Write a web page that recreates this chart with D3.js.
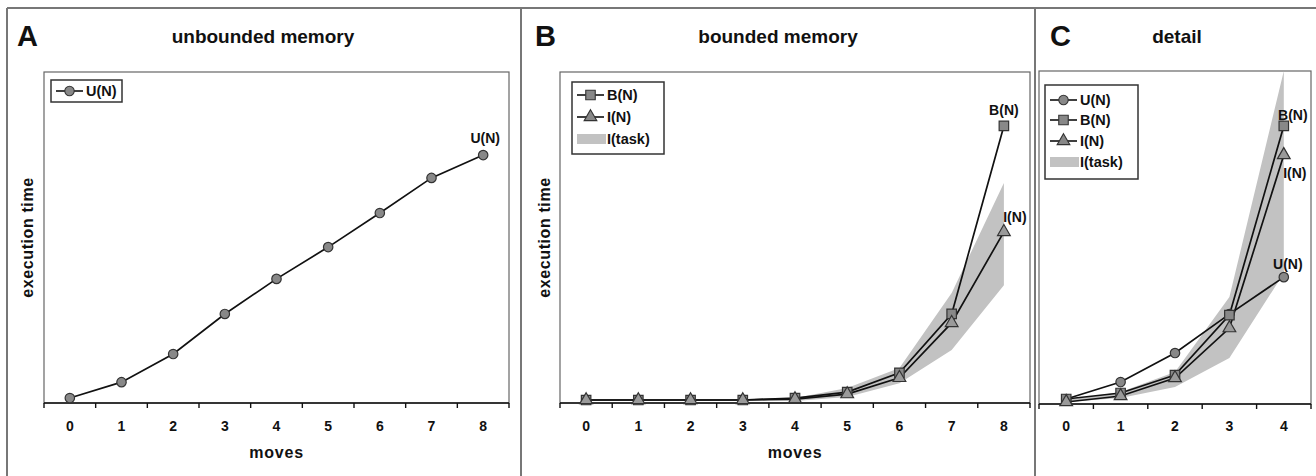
<!DOCTYPE html>
<html>
<head>
<meta charset="utf-8">
<script src="https://cdn.jsdelivr.net/npm/d3@7"></script>
<style>
  html, body { margin: 0; padding: 0; background: #fff; }
  svg text { font-family: Arial, "Liberation Sans", sans-serif; font-weight: bold; fill: #111; }
</style>
</head>
<body>
<svg id="chart" width="1316" height="476"></svg>
<script>
const movesA = [0, 1, 2, 3, 4, 5, 6, 7, 8];
const unboundedA = [1.5, 6.3, 14.8, 26.9, 37.5, 47.1, 57.4, 68.0, 74.9];

const movesB = [0, 1, 2, 3, 4, 5, 6, 7, 8];
const boundedB = [0.9, 0.9, 0.9, 0.9, 1.5, 3.3, 9.1, 26.9, 83.7];
const iterB = [0.9, 0.9, 0.9, 0.9, 1.2, 2.7, 7.6, 24.2, 51.7];
const taskHighB = [0.9, 0.9, 0.9, 1.0, 1.5, 4.5, 10.6, 33.2, 66.5];
const taskLowB = [0.8, 0.8, 0.8, 0.8, 0.6, 1.8, 6.0, 16.0, 35.6];

const movesC = [0, 1, 2, 3, 4];
const unboundedC = [1.5, 6.6, 15.3, 27.0, 38.1];
const boundedC = [1.5, 3.3, 8.7, 26.7, 83.5];
const iterC = [0.6, 2.4, 7.8, 22.8, 74.8];
const taskHighC = [1.2, 3.6, 9.6, 32.1, 100];
const taskLowC = [0.6, 1.8, 5.1, 13.8, 39.3];

const svg = d3.select("#chart");

// panel frames
const frame = svg.append("g").attr("stroke", "#777").attr("stroke-width", 2);
frame.append("line").attr("x1", 7).attr("x2", 1316).attr("y1", 8).attr("y2", 8);
[7, 521, 1035].forEach(x => {
  frame.append("line").attr("x1", x).attr("x2", x).attr("y1", 8).attr("y2", 476);
});

const symbols = {
  U: d3.symbol().type(d3.symbolCircle).size(70)(),
  B: d3.symbol().type(d3.symbolSquare).size(90)(),
  I: d3.symbol().type(d3.symbolTriangle).size(70)()
};

function drawPanel(p) {
  const x = d3.scaleBand().domain(p.moves).range([p.left, p.right]);
  const y = d3.scaleLinear().domain([0, 100]).range([p.bottom, p.top]);
  const cx = d => x(d) + x.bandwidth() / 2;
  const g = svg.append("g");

  const clipId = "clip" + p.letter;
  g.append("clipPath").attr("id", clipId)
    .append("rect").attr("x", p.left).attr("y", p.top)
    .attr("width", p.right - p.left).attr("height", p.bottom - p.top);

  // letter + title
  g.append("text").attr("x", p.letterX).attr("y", 46).attr("font-size", 29).text(p.letter);
  g.append("text").attr("x", p.titleX).attr("y", 43).attr("font-size", 19)
    .attr("text-anchor", "middle").text(p.title);

  // plot area
  g.append("rect").attr("x", p.left).attr("y", p.top)
    .attr("width", p.right - p.left).attr("height", p.bottom - p.top)
    .attr("fill", "#fff").attr("stroke", "#666").attr("stroke-width", 1.2);

  // band I(task)
  if (p.low) {
    const area = d3.area().x((d, i) => cx(p.moves[i]))
      .y0((d, i) => y(p.low[i])).y1(d => y(d));
    g.append("path").datum(p.high).attr("d", area)
      .attr("fill", "#c2c2c2").attr("clip-path", `url(#${clipId})`);
  }

  // x axis
  const ax = g.append("g");
  ax.append("line").attr("x1", p.left).attr("x2", p.right)
    .attr("y1", p.bottom).attr("y2", p.bottom).attr("stroke", "#111").attr("stroke-width", 1.6);
  const edges = p.moves.map(d => x(d)).concat([p.right]);
  ax.selectAll(".tk").data(edges).join("line")
    .attr("x1", d => d).attr("x2", d => d).attr("y1", p.bottom).attr("y2", p.bottom + 5)
    .attr("stroke", "#111").attr("stroke-width", 1.4);
  ax.selectAll(".lb").data(p.moves).join("text")
    .attr("x", cx).attr("y", 431).attr("font-size", 14).attr("text-anchor", "middle")
    .text(d => d);

  if (p.xTitle) {
    g.append("text").attr("x", (p.left + p.right) / 2).attr("y", 458)
      .attr("font-size", 16).attr("letter-spacing", 0.8).attr("text-anchor", "middle").text("moves");
  }
  if (p.yTitleX) {
    g.append("text")
      .attr("transform", `translate(${p.yTitleX},${(p.top + p.bottom) / 2}) rotate(-90)`)
      .attr("font-size", 16).attr("letter-spacing", 0.6).attr("text-anchor", "middle")
      .text("execution time");
  }

  // series
  const line = d3.line().x((d, i) => cx(p.moves[i])).y(d => y(d));
  p.series.forEach(s => {
    g.append("path").datum(s.values).attr("d", line)
      .attr("fill", "none").attr("stroke", "#111").attr("stroke-width", 1.7);
  });
  p.series.forEach(s => {
    g.selectAll(null).data(s.values).join("path")
      .attr("d", symbols[s.key])
      .attr("transform", (d, i) => `translate(${cx(p.moves[i])},${y(d)})`)
      .attr("fill", s.key === "I" ? "#9a9a9a" : "#888").attr("stroke", "#333").attr("stroke-width", 1.2);
    const last = s.values.length - 1;
    g.append("text")
      .attr("x", cx(p.moves[last]) + s.labelDx).attr("y", y(s.values[last]) + s.labelDy)
      .attr("font-size", 14).attr("text-anchor", "middle").text(s.key + "(N)");
  });

  // legend
  const L = p.legend;
  const lg = g.append("g");
  lg.append("rect").attr("x", L.x).attr("y", L.y).attr("width", L.w).attr("height", L.h)
    .attr("fill", "#fff").attr("stroke", "#333").attr("stroke-width", 1.5);
  L.items.forEach((key, i) => {
    const yy = L.rows[i];
    if (key === "task") {
      lg.append("rect").attr("x", L.x + 5).attr("y", yy - 5).attr("width", 29).attr("height", 10)
        .attr("fill", "#c2c2c2");
      lg.append("text").attr("x", L.x + 35).attr("y", yy + 5).attr("font-size", 14.5).text("I(task)");
    } else {
      lg.append("line").attr("x1", L.x + 5).attr("x2", L.x + 32).attr("y1", yy).attr("y2", yy)
        .attr("stroke", "#111").attr("stroke-width", 1.6);
      lg.append("path").attr("d", symbols[key]).attr("transform", `translate(${L.x + 18.5},${yy})`)
        .attr("fill", "#888").attr("stroke", "#333").attr("stroke-width", 1.1);
      lg.append("text").attr("x", L.x + 35).attr("y", yy + 5).attr("font-size", 14.5).text(key + "(N)");
    }
  });
}

drawPanel({
  letter: "A", letterX: 17, title: "unbounded memory", titleX: 263,
  moves: movesA, left: 44, right: 509, top: 72, bottom: 403,
  xTitle: true, yTitleX: 33,
  series: [{ key: "U", values: unboundedA, labelDx: 2, labelDy: -12 }],
  legend: { x: 51, y: 80, w: 71, h: 22, items: ["U"], rows: [91] }
});

drawPanel({
  letter: "B", letterX: 535, title: "bounded memory", titleX: 778,
  moves: movesB, left: 560, right: 1030, top: 72, bottom: 403,
  xTitle: true, yTitleX: 550,
  low: taskLowB, high: taskHighB,
  series: [
    { key: "B", values: boundedB, labelDx: 0, labelDy: -11 },
    { key: "I", values: iterB, labelDx: 11, labelDy: -10 }
  ],
  legend: { x: 572, y: 82, w: 92, h: 72, items: ["B", "I", "task"], rows: [95, 117, 139] }
});

drawPanel({
  letter: "C", letterX: 1050, title: "detail", titleX: 1177,
  moves: movesC, left: 1039, right: 1311, top: 71, bottom: 404,
  xTitle: false, yTitleX: null,
  low: taskLowC, high: taskHighC,
  series: [
    { key: "U", values: unboundedC, labelDx: 4, labelDy: -8 },
    { key: "B", values: boundedC, labelDx: 9, labelDy: -6 },
    { key: "I", values: iterC, labelDx: 11, labelDy: 23 }
  ],
  legend: { x: 1045, y: 85, w: 93, h: 94, items: ["U", "B", "I", "task"], rows: [100, 120, 141, 162] }
});
</script>
</body>
</html>
